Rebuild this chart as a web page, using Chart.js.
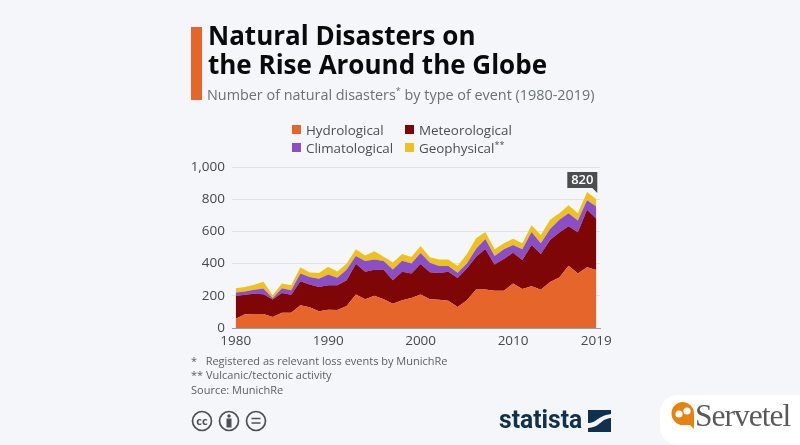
<!DOCTYPE html>
<html>
<head>
<meta charset="utf-8">
<script src="https://cdn.jsdelivr.net/npm/chart.js@4"></script>
<style>
  html, body { margin: 0; padding: 0; background: #f4f6f9; }
  #page { position: relative; width: 800px; height: 445px; overflow: hidden; font-family: "Open Sans", sans-serif; }
  #page canvas { position: absolute; left: 0; top: 0; }
  .txt { position: absolute; white-space: nowrap; }
  #bar { position: absolute; left: 191px; top: 27px; width: 11px; height: 73px; background: #e5652b; }
  #title { left: 208px; top: 21px; font-size: 26px; line-height: 29px; font-weight: 700; color: #0a0a0a; }
  #subtitle { left: 207px; top: 85px; font-size: 14.4px; color: #6a7075; }
  #subtitle sup, #legend sup { font-size: 9px; line-height: 0; }
  .key { position: absolute; font-size: 13.4px; color: #4a4f54; white-space: nowrap; line-height: 18px; }
  .key i { position: absolute; left: -14px; top: 4px; width: 9px; height: 9px; }
  .note { left: 191px; font-size: 11px; color: #5a5f64; }
  #statista { left: 499px; top: 403px; font-size: 26.5px; font-weight: 700; color: #10304f; font-family: "Roboto", sans-serif; transform: scaleX(.93); transform-origin: left; }
  #whitebox { position: absolute; left: 660px; top: 395px; width: 170px; height: 50px; background: #fff; border-radius: 18px; }
  #servetel { left: 695px; top: 398px; font-size: 31.5px; color: #5a5a5a; font-family: "Liberation Serif", serif; letter-spacing: -1px; }
</style>
</head>
<body>
<div id="page">
  <canvas id="chart" width="800" height="445"></canvas>
  <div id="bar"></div>
  <div id="title" class="txt">Natural Disasters on<br>the Rise Around the Globe</div>
  <div id="subtitle" class="txt">Number of natural disasters<sup>*</sup> by type of event (1980-2019)</div>
  <div id="legend"></div>
  <div class="txt note" style="top:353px">*&nbsp;&nbsp; Registered as relevant loss events by MunichRe</div>
  <div class="txt note" style="top:367px">** Vulcanic/tectonic activity</div>
  <div class="txt note" style="top:382px">Source: MunichRe</div>
  <svg style="position:absolute;left:191px;top:410px" width="80" height="24" fill="none" stroke="#4a5056" stroke-width="1.7">
    <circle cx="11" cy="11" r="9.5"/><circle cx="38" cy="11" r="9.5"/><circle cx="65" cy="11" r="9.5"/>
    <text x="11" y="15" font-family="Open Sans" font-size="11" font-weight="700" fill="#4a5056" stroke="none" text-anchor="middle">cc</text>
    <circle cx="38" cy="6" r="1.7" fill="#4a5056" stroke="none"/>
    <rect x="35.5" y="8.5" width="5" height="9" fill="#4a5056" stroke="none"/>
    <path d="M60.5 8.5h9M60.5 13h9"/>
  </svg>
  <div id="statista" class="txt">statista</div>
  <svg style="position:absolute;left:588px;top:410px" width="23" height="22">
    <rect width="23" height="22" fill="#10304f"/>
    <path d="M0 13 C9 13 9 6 23 4 L23 8 C12 9 13 17 0 18Z" fill="#f4f6f9"/>
  </svg>
  <div id="whitebox"></div>
  <svg style="position:absolute;left:671px;top:401px" width="28" height="30">
    <path d="M12 1 A11.5 11.5 0 1 0 12 24 L19 24 L23 28 L23 12 A11.5 11.5 0 0 0 12 1Z" fill="#e8820e"/>
    <circle cx="8" cy="13" r="3.6" fill="#fff"/><circle cx="16" cy="10" r="3.6" fill="#fff"/>
  </svg>
  <div id="servetel" class="txt">Servetel</div>
</div>
<script>
// values
const years = [1980,1981,1982,1983,1984,1985,1986,1987,1988,1989,
               1990,1991,1992,1993,1994,1995,1996,1997,1998,1999,
               2000,2001,2002,2003,2004,2005,2006,2007,2008,2009,
               2010,2011,2012,2013,2014,2015,2016,2017,2018,2019];
const hydrological = [58,85,87,87,69,94,94,141,129,104,
                      114,112,137,208,179,200,179,150,173,187,
                      208,179,175,170,131,173,239,239,231,231,
                      276,243,260,237,285,314,387,339,378,360];
const meteorological = [140,121,125,123,108,124,112,150,141,150,
                        152,154,160,191,170,162,183,147,176,152,
                        189,168,166,179,179,197,203,252,164,197,
                        192,179,256,222,262,279,245,256,356,318];
const climatological = [22,21,25,35,8,29,29,48,46,52,
                        67,46,67,48,67,64,54,67,69,62,
                        69,58,44,36,33,31,51,62,52,61,
                        48,67,81,67,68,79,81,72,59,77];
const geophysical = [27,27,31,42,19,29,31,39,29,35,
                     47,39,37,42,35,50,27,43,41,40,
                     43,34,41,41,42,58,64,44,42,37,
                     39,37,41,52,57,41,50,46,51,45];
const yTicks = [0,200,400,600,800,1000];
const xTicks = [1980,1990,2000,2010,2019];
const calloutYear = 2019;
const calloutText = "820";

const ORANGE = "#e5652b", RED = "#7f0606", PURPLE = "#8a4fc7", YELLOW = "#eec11f";

function series(label, values, color, fill) {
    return {
        label: label,
        data: values.map((v, i) => ({ x: years[i], y: v })),
        backgroundColor: color,
        borderWidth: 0,
        pointRadius: 0,
        tension: 0,
        fill: fill
    };
}

/* -------------------- LEGEND -------------------- */
const keys = [
    ["Hydrological", ORANGE, 306, 121],
    ["Meteorological", RED, 419, 121],
    ["Climatological", PURPLE, 306, 138.5],
    ["Geophysical<sup>**</sup>", YELLOW, 419, 138.5]
];
document.getElementById("legend").innerHTML = keys.map(k =>
    `<div class="key" style="left:${k[2]}px;top:${k[3]}px"><i style="background:${k[1]}"></i>${k[0]}</div>`
).join("");

/* -------------------- 820 CALLOUT -------------------- */
const callout = {
    id: "callout",
    afterDatasetsDraw(chart) {
        const c = chart.ctx;
        const right = chart.scales.x.getPixelForValue(calloutYear) + 1;
        const top = 172, h = 16, w = 30;
        c.save();
        c.fillStyle = "#4b4d4f";
        c.beginPath();
        c.moveTo(right - w, top);
        c.lineTo(right, top);
        c.lineTo(right, top + h + 5);
        c.lineTo(right - 5, top + h);
        c.lineTo(right - w, top + h);
        c.closePath();
        c.fill();
        c.fillStyle = "#fff";
        c.font = "600 13px 'Open Sans'";
        c.textAlign = "center";
        c.textBaseline = "middle";
        c.fillText(calloutText, right - w / 2, top + h / 2 + 0.5);
        c.restore();
    }
};

/* -------------------- CHART -------------------- */
new Chart(document.getElementById("chart"), {
    type: "line",
    data: {
        datasets: [
            series("Hydrological", hydrological, ORANGE, "origin"),
            series("Meteorological", meteorological, RED, "-1"),
            series("Climatological", climatological, PURPLE, "-1"),
            series("Geophysical", geophysical, YELLOW, "-1")
        ]
    },
    plugins: [callout],
    options: {
        responsive: false,
        animation: false,
        layout: { padding: { left: 0, right: 200, top: 167, bottom: 0 } },
        plugins: { legend: { display: false }, tooltip: { enabled: false } },
        scales: {
            x: {
                type: "linear",
                min: 1979.6,
                max: 2019.4,
                afterBuildTicks: axis => { axis.ticks = xTicks.map(v => ({ value: v })); },
                afterFit: axis => { axis.height = 117; },
                grid: { display: false, tickLength: 5 },
                border: { color: "#9a9da1", width: 1 },
                ticks: {
                    autoSkip: false,
                    maxRotation: 0,
                    padding: 0,
                    color: "#45494d",
                    font: { family: "Open Sans", size: 13.5 },
                    callback: v => String(v)
                }
            },
            y: {
                stacked: true,
                min: 0,
                max: 1000,
                afterBuildTicks: axis => { axis.ticks = yTicks.map(v => ({ value: v })); },
                afterFit: axis => { axis.width = 232; },
                grid: { color: "#dfe2e6", lineWidth: 1, drawTicks: false },
                border: { display: false },
                ticks: {
                    padding: 7,
                    color: "#45494d",
                    font: { family: "Open Sans", size: 13.5 },
                    callback: v => v.toLocaleString("en-US")
                }
            }
        }
    }
});
</script>
</body>
</html>
